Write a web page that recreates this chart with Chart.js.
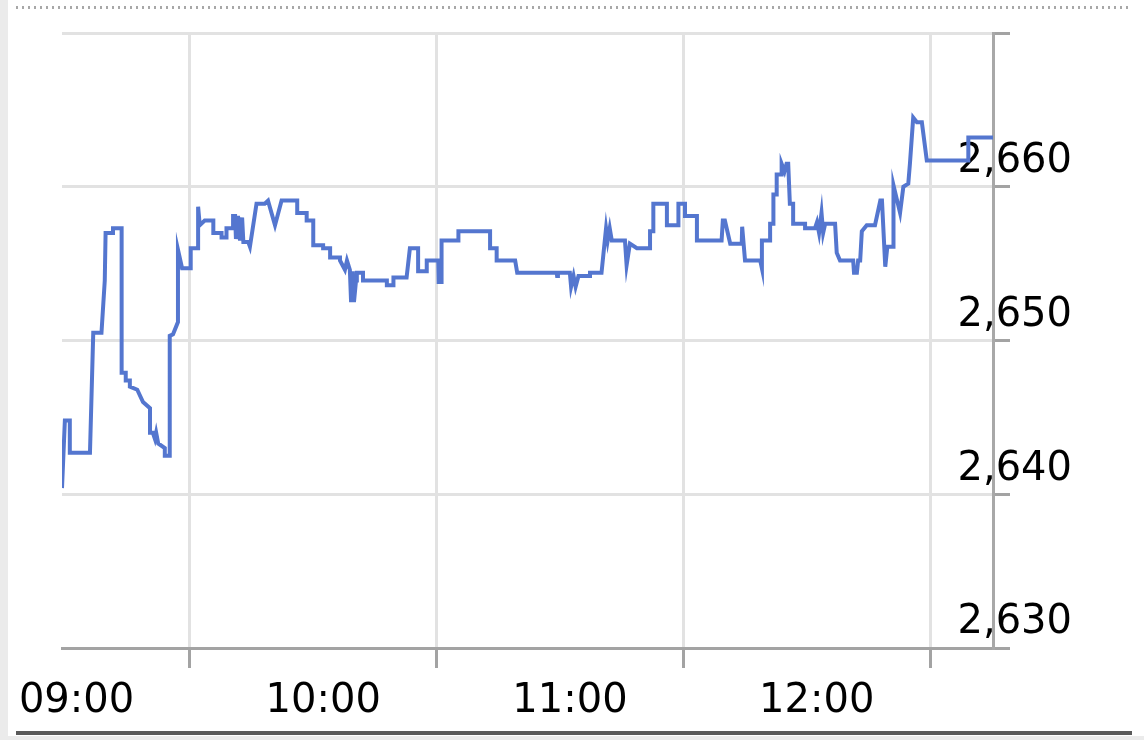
<!DOCTYPE html>
<html>
<head>
<meta charset="utf-8">
<script src="https://cdn.jsdelivr.net/npm/chart.js@4.4.1/dist/chart.umd.min.js"></script>
<style>
  html, body { margin: 0; padding: 0; background: #fff; }
  #page { position: relative; width: 1144px; height: 740px; overflow: hidden; background: #fff; }
  #leftStrip { position: absolute; left: 0; top: 0; width: 8px; height: 740px; background: #ebebeb; }
  #dots { position: absolute; left: 16px; top: 6px; width: 1116px; height: 3px;
          background-image: linear-gradient(to right, #a8a8a8 0px, #a8a8a8 2px, transparent 2px, transparent 6px);
          background-size: 6px 3px; }
  #baseLine { position: absolute; left: 16px; top: 731px; width: 1116px; height: 4px; background: #5a5a5a; }
  #bottomStrip { position: absolute; left: 0; top: 736px; width: 1144px; height: 4px; background: #ebebeb; }
  #myChart { position: absolute; left: 0; top: 0; }
</style>
</head>
<body>
<div id="page">
  <div id="leftStrip"></div>
  <div id="dots"></div>
  <div id="baseLine"></div>
  <div id="bottomStrip"></div>
  <canvas id="myChart" width="1144" height="740"></canvas>
</div>
<script>
// minutes after 09:00 and the price at that moment
var times = [
  -1.1, -0.4, 0.8, 0.8, 5.7, 6.5, 8.5, 9.3, 9.5, 11.3, 11.3, 13.4, 13.4, 14.4, 14.4, 15.4, 15.4, 17.2, 18.6, 20.3,
  20.3, 21.0, 21.5, 21.8, 22.3, 23.9, 23.9, 25.1, 25.1, 25.9, 27.1, 27.1, 28.1, 30.2, 30.2, 32.0, 32.0, 32.4, 33.6, 35.7,
  35.7, 37.7, 37.7, 38.9, 38.9, 40.5, 40.5, 41.0, 41.2, 41.7, 42.2, 42.7, 43.0, 44.2, 44.6, 46.2, 48.2, 49.0, 50.7, 52.3,
  56.1, 56.1, 58.4, 58.4, 60.0, 60.0, 62.4, 62.4, 64.1, 64.1, 66.5, 66.5, 67.7, 68.2, 68.9, 69.2, 69.6, 69.9, 70.4, 70.6,
  72.1, 72.1, 77.9, 77.9, 79.5, 79.5, 82.7, 83.5, 85.5, 85.5, 87.6, 87.6, 90.4, 90.5, 91.2, 91.2, 95.3, 95.3, 103.0, 103.0,
  104.6, 104.6, 109.1, 109.6, 119.2, 119.3, 119.5, 122.4, 122.7, 123.3, 123.8, 124.5, 127.3, 127.3, 130.1, 131.2, 131.6, 132.1, 132.6, 135.8,
  136.2, 137.0, 138.7, 141.9, 141.9, 142.7, 142.7, 146.0, 146.0, 148.8, 148.8, 150.4, 150.4, 153.3, 153.3, 159.3, 159.6, 160.1, 161.4, 164.2,
  164.3, 165.0, 168.7, 169.1, 169.1, 171.1, 171.1, 171.9, 171.9, 172.7, 172.7, 173.9, 173.9, 174.6, 175.1, 175.5, 175.9, 176.7, 176.7, 179.6,
  179.6, 182.0, 182.5, 183.0, 183.6, 184.0, 184.5, 186.9, 187.3, 188.1, 191.3, 191.5, 192.2, 192.5, 193.0, 193.4, 194.6, 196.6, 197.9, 198.3,
  199.1, 199.6, 201.0, 201.1, 202.7, 203.5, 204.7, 205.1, 205.9, 206.8, 208.0, 209.2, 219.3, 219.3, 225.3
];
var prices = [
  2640.4, 2644.8, 2644.8, 2642.7, 2642.7, 2650.5, 2650.5, 2653.9, 2657.0, 2657.0, 2657.3, 2657.3, 2647.9, 2647.9, 2647.4, 2647.4, 2647.0, 2646.8, 2646.0, 2645.6,
  2644.0, 2644.0, 2643.6, 2644.0, 2643.3, 2643.0, 2642.5, 2642.5, 2650.3, 2650.4, 2651.2, 2655.9, 2654.7, 2654.7, 2656.0, 2656.0, 2658.7, 2657.5, 2657.8, 2657.8,
  2657.0, 2657.0, 2656.7, 2656.7, 2657.3, 2657.3, 2658.1, 2658.1, 2656.6, 2658.1, 2656.5, 2658.0, 2656.4, 2656.4, 2656.1, 2658.9, 2658.9, 2659.1, 2657.5, 2659.1,
  2659.1, 2658.3, 2658.3, 2657.8, 2657.8, 2656.2, 2656.2, 2656.0, 2656.0, 2655.4, 2655.4, 2655.2, 2654.6, 2655.2, 2654.6, 2652.5, 2654.5, 2652.5, 2653.9, 2654.4,
  2654.4, 2653.9, 2653.9, 2653.6, 2653.6, 2654.1, 2654.1, 2656.0, 2656.0, 2654.5, 2654.5, 2655.2, 2655.2, 2653.8, 2653.8, 2656.5, 2656.5, 2657.1, 2657.1, 2656.0,
  2656.0, 2655.2, 2655.2, 2654.4, 2654.4, 2654.2, 2654.4, 2654.4, 2653.5, 2654.2, 2653.5, 2654.2, 2654.2, 2654.4, 2654.4, 2657.3, 2656.5, 2657.3, 2656.5, 2656.5,
  2654.9, 2656.3, 2656.0, 2656.0, 2657.1, 2657.1, 2658.9, 2658.9, 2657.5, 2657.5, 2658.9, 2658.9, 2658.1, 2658.1, 2656.5, 2656.5, 2657.8, 2657.8, 2656.3, 2656.3,
  2657.4, 2655.2, 2655.2, 2654.7, 2656.5, 2656.5, 2657.6, 2657.6, 2659.5, 2659.5, 2660.8, 2660.8, 2661.5, 2661.0, 2661.5, 2661.5, 2658.9, 2658.9, 2657.6, 2657.6,
  2657.3, 2657.3, 2657.7, 2657.0, 2658.3, 2657.0, 2657.6, 2657.6, 2655.7, 2655.2, 2655.2, 2654.4, 2654.4, 2655.2, 2655.2, 2657.1, 2657.5, 2657.5, 2659.1, 2659.1,
  2654.8, 2656.1, 2656.1, 2660.1, 2658.3, 2660.0, 2660.2, 2661.5, 2664.5, 2664.2, 2664.2, 2661.7, 2661.7, 2663.2, 2663.2
];

// axis ticks
var xTickMinutes = [0, 30, 60, 90, 120, 150, 180, 210];
var xTickLabels = ["09:00", "", "10:00", "", "11:00", "", "12:00", ""];
var yTickValues = [2630, 2640, 2650, 2660, 2670];
var yTickLabels = ["2,630", "2,640", "2,650", "2,660", ""];

var points = times.map(function (t, i) { return { x: t, y: prices[i] }; });

var gridGray = "#e2e2e2";
var tickGray = "#a3a3a3";
var labelFont = { family: "DejaVu Sans", size: 40 };

function halfHour(ctx) {
  return ctx.tick && ctx.tick.value % 60 === 30;
}

new Chart("myChart", {
  type: "line",
  data: {
    datasets: [{
      data: points,
      borderColor: "#5476cf",
      borderWidth: 4,
      pointRadius: 0,
      tension: 0,
      fill: false
    }]
  },
  options: {
    responsive: false,
    animation: false,
    events: [],
    layout: { padding: { left: 62, top: 33, right: 0, bottom: 0 } },
    plugins: { legend: { display: false }, tooltip: { enabled: false } },
    scales: {
      x: {
        type: "linear",
        position: "bottom",
        min: -1.1,
        max: 225.3,
        afterBuildTicks: function (s) { s.ticks = xTickMinutes.map(function (v) { return { value: v }; }); },
        afterFit: function (s) { s.height = 92; s.paddingLeft = 0; s.paddingRight = 0; },
        grid: {
          color: function (ctx) { return halfHour(ctx) ? gridGray : "rgba(0,0,0,0)"; },
          tickColor: function (ctx) { return halfHour(ctx) ? tickGray : "rgba(0,0,0,0)"; },
          lineWidth: 3,
          tickLength: 20
        },
        border: { color: tickGray, width: 3 },
        ticks: {
          autoSkip: false,
          maxRotation: 0,
          color: "#000",
          font: labelFont,
          padding: 10,
          labelOffset: 10,
          callback: function (v, i) { return xTickLabels[i]; }
        }
      },
      yGrid: {
        type: "linear",
        position: "right",
        min: 2630,
        max: 2670,
        afterBuildTicks: function (s) { s.ticks = yTickValues.map(function (v) { return { value: v }; }); },
        afterFit: function (s) { s.width = 0; s.paddingTop = 0; s.paddingBottom = 0; },
        grid: {
          color: function (ctx) { return ctx.tick && ctx.tick.value === 2630 ? "rgba(0,0,0,0)" : gridGray; },
          lineWidth: 3,
          drawTicks: false
        },
        border: { display: false },
        ticks: { display: false }
      },
      y: {
        type: "linear",
        position: "right",
        z: 1,
        min: 2630,
        max: 2670,
        afterBuildTicks: function (s) { s.ticks = yTickValues.map(function (v) { return { value: v }; }); },
        afterFit: function (s) { s.width = 151; s.paddingTop = 0; s.paddingBottom = 0; },
        grid: {
          drawOnChartArea: false,
          tickColor: tickGray,
          lineWidth: 3,
          tickLength: 17
        },
        border: { color: "#a8a8a8", width: 3 },
        ticks: {
          mirror: true,
          color: "#000",
          font: labelFont,
          padding: 79,
          labelOffset: -25,
          callback: function (v, i) { return yTickLabels[i]; }
        }
      }
    }
  }
});
</script>
</body>
</html>
